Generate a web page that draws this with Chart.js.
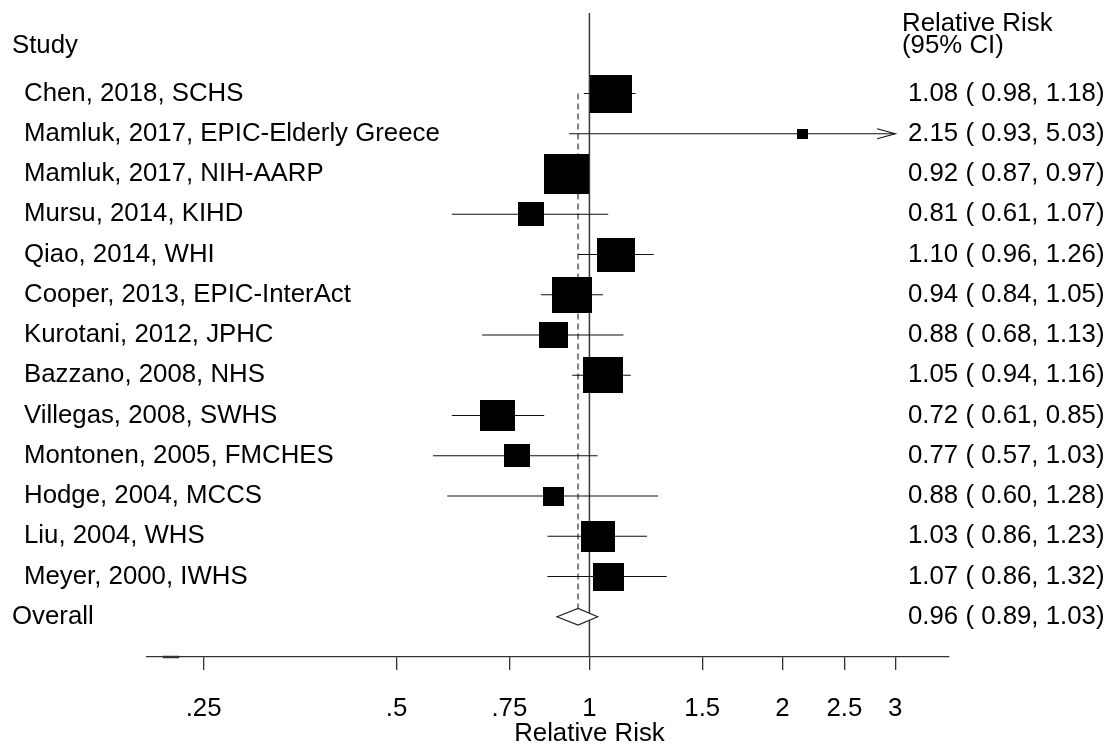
<!DOCTYPE html>
<html>
<head>
<meta charset="utf-8">
<title>Relative Risk forest plot</title>
<script src="https://cdn.jsdelivr.net/npm/chart.js@4.4.1/dist/chart.umd.min.js"></script>
<style>
  html, body { margin: 0; padding: 0; background: #fff; }
  canvas { display: block; }
</style>
</head>
<body>
<canvas id="forest" width="1111" height="745"></canvas>
<script>
// Study-level estimates (relative risk with 95% CI) and their weights (%)
const studies = [
  'Chen, 2018, SCHS',
  'Mamluk, 2017, EPIC-Elderly Greece',
  'Mamluk, 2017, NIH-AARP',
  'Mursu, 2014, KIHD',
  'Qiao, 2014, WHI',
  'Cooper, 2013, EPIC-InterAct',
  'Kurotani, 2012, JPHC',
  'Bazzano, 2008, NHS',
  'Villegas, 2008, SWHS',
  'Montonen, 2005, FMCHES',
  'Hodge, 2004, MCCS',
  'Liu, 2004, WHS',
  'Meyer, 2000, IWHS'
];
const rr    = [1.08, 2.15, 0.92, 0.81, 1.10, 0.94, 0.88, 1.05, 0.72, 0.77, 0.88, 1.03, 1.07];
const lower = [0.98, 0.93, 0.87, 0.61, 0.96, 0.84, 0.68, 0.94, 0.61, 0.57, 0.60, 0.86, 0.86];
const upper = [1.18, 5.03, 0.97, 1.07, 1.26, 1.05, 1.13, 1.16, 0.85, 1.03, 1.28, 1.23, 1.32];
const weights = [12.1, 0.8, 13.9, 4.7, 9.9, 11.0, 5.7, 11.0, 8.4, 4.5, 3.1, 8.0, 6.8];

// Pooled estimate: [RR, lower, upper]
const overall = [0.96, 0.89, 1.03];

// Axis
const tickValues = [0.25, 0.5, 0.75, 1, 1.5, 2, 2.5, 3];
const tickLabels = ['.25', '.5', '.75', '1', '1.5', '2', '2.5', '3'];
const xRange = [0.204, 3.64];
const axisMark = [0.216, 0.229];

const FONT = '"Liberation Sans", Arial, Helvetica, sans-serif';
const FONT_PX = 25.8;
const BOX_SCALE = 12.05;      // box side (px) per sqrt(weight)
const BOX_ASPECT = 0.9;       // box height / width
const DIAMOND_HALF = 0.207;   // diamond half-height in row units
const overallRow = studies.length;

const fmt = v => v.toFixed(2);
const ciText = (e, l, u) => `${fmt(e)} ( ${fmt(l)}, ${fmt(u)})`;

// Square markers sized by study weight
const boxImages = weights.map(w => {
  const side = BOX_SCALE * Math.sqrt(w);
  const c = document.createElement('canvas');
  c.width = Math.round(side);
  c.height = Math.round(side * BOX_ASPECT);
  const g = c.getContext('2d');
  g.fillStyle = '#000';
  g.fillRect(0, 0, c.width, c.height);
  return c;
});

function seg(ctx, x1, y1, x2, y2) {
  ctx.beginPath();
  ctx.moveTo(x1, y1);
  ctx.lineTo(x2, y2);
  ctx.stroke();
}

const forestPlugin = {
  id: 'forest',
  beforeDatasetsDraw(chart) {
    const { ctx, chartArea, scales: { x, y } } = chart;
    ctx.save();

    // line of no effect
    const xNull = x.getPixelForValue(1);
    ctx.strokeStyle = '#3a3a3a';
    ctx.lineWidth = 1.5;
    seg(ctx, xNull, chartArea.top, xNull, chartArea.bottom);

    // pooled estimate reference
    const xo = x.getPixelForValue(overall[0]);
    ctx.strokeStyle = '#808080';
    ctx.lineWidth = 2;
    ctx.setLineDash([6, 4]);
    seg(ctx, xo, y.getPixelForValue(0), xo, y.getPixelForValue(overallRow - DIAMOND_HALF));
    ctx.setLineDash([]);

    // confidence intervals, clipped at the outermost ticks
    const clipLo = tickValues[0];
    const clipHi = tickValues[tickValues.length - 1];
    ctx.strokeStyle = '#111';
    ctx.lineWidth = 1.2;
    studies.forEach((_, i) => {
      const yp = y.getPixelForValue(i);
      const lo = Math.max(lower[i], clipLo);
      const hi = Math.min(upper[i], clipHi);
      const xl = x.getPixelForValue(lo);
      const xh = x.getPixelForValue(hi);
      seg(ctx, xl, yp, xh, yp);
      if (upper[i] > clipHi) {
        ctx.beginPath();
        ctx.moveTo(xh - 18, yp - 5);
        ctx.lineTo(xh, yp);
        ctx.lineTo(xh - 18, yp + 5);
        ctx.stroke();
      }
    });
    ctx.restore();
  },
  afterDatasetsDraw(chart) {
    const { ctx, chartArea, scales: { x, y } } = chart;
    ctx.save();

    // pooled estimate diamond
    const yo = y.getPixelForValue(overallRow);
    const yTop = y.getPixelForValue(overallRow - DIAMOND_HALF);
    const yBot = y.getPixelForValue(overallRow + DIAMOND_HALF);
    ctx.beginPath();
    ctx.moveTo(x.getPixelForValue(overall[1]), yo);
    ctx.lineTo(x.getPixelForValue(overall[0]), yTop);
    ctx.lineTo(x.getPixelForValue(overall[2]), yo);
    ctx.lineTo(x.getPixelForValue(overall[0]), yBot);
    ctx.closePath();
    ctx.fillStyle = '#fff';
    ctx.fill();
    ctx.strokeStyle = '#222';
    ctx.lineWidth = 1.2;
    ctx.stroke();

    // short heavier stroke on the axis
    ctx.strokeStyle = '#333';
    ctx.lineWidth = 2.5;
    seg(ctx, x.getPixelForValue(axisMark[0]), chartArea.bottom,
             x.getPixelForValue(axisMark[1]), chartArea.bottom);

    // text columns
    ctx.fillStyle = '#000';
    ctx.font = `${FONT_PX}px ${FONT}`;
    ctx.textBaseline = 'middle';
    ctx.textAlign = 'left';
    const leftX = 12, studyX = 24, rightX = 908;
    ctx.fillText('Study', leftX, y.getPixelForValue(-1.18));
    ctx.fillText('Relative Risk', rightX - 6, y.getPixelForValue(-1.74));
    ctx.fillText('(95% CI)', rightX - 6, y.getPixelForValue(-1.18));
    studies.forEach((name, i) => {
      const yp = y.getPixelForValue(i);
      ctx.fillText(name, studyX, yp);
      ctx.fillText(ciText(rr[i], lower[i], upper[i]), rightX, yp);
    });
    ctx.fillText('Overall', leftX, yo);
    ctx.fillText(ciText(overall[0], overall[1], overall[2]), rightX, yo);

    // axis title
    ctx.textAlign = 'center';
    ctx.fillText('Relative Risk', x.getPixelForValue(1), 734);
    ctx.restore();
  }
};

new Chart(document.getElementById('forest'), {
  type: 'scatter',
  data: {
    datasets: [{
      data: rr.map((v, i) => ({ x: v, y: i })),
      pointStyle: ctx => boxImages[ctx.dataIndex],
      pointRadius: 10,
      pointHoverRadius: 10
    }]
  },
  options: {
    responsive: false,
    animation: false,
    events: [],
    devicePixelRatio: 1,
    layout: { padding: { left: 147, right: 162, top: 13, bottom: 0 } },
    plugins: { legend: { display: false }, tooltip: { enabled: false } },
    scales: {
      x: {
        type: 'logarithmic',
        position: 'bottom',
        min: xRange[0],
        max: xRange[1],
        afterBuildTicks: s => { s.ticks = tickValues.map(v => ({ value: v })); },
        afterFit: s => { s.height = 88; },
        ticks: {
          callback: (v, i) => tickLabels[i],
          color: '#000',
          padding: 23,
          autoSkip: false,
          maxRotation: 0,
          font: { size: FONT_PX, family: FONT }
        },
        grid: { drawOnChartArea: false, drawTicks: true, tickLength: 13, color: '#333', lineWidth: 1.3 },
        border: { display: true, color: '#333', width: 1.3 }
      },
      y: { type: 'linear', reverse: true, min: -2, max: 14, display: false }
    }
  },
  plugins: [forestPlugin]
});
</script>
</body>
</html>
